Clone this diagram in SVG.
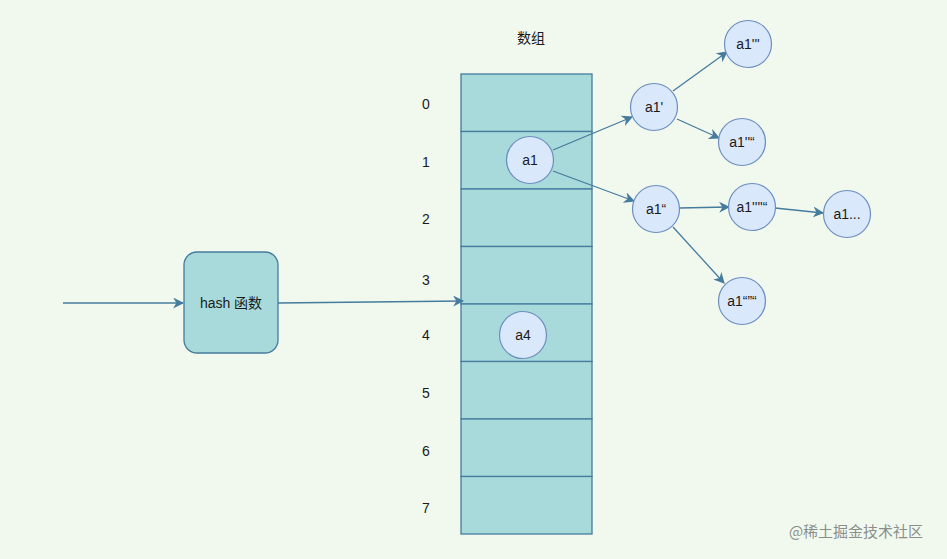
<svg xmlns="http://www.w3.org/2000/svg" width="947" height="559" viewBox="0 0 947 559">
<defs>
<style>
.t{font-family:"Liberation Sans","Noto Sans CJK SC",sans-serif;font-size:14px;fill:#1a1a1a;text-anchor:middle;dominant-baseline:central}
.c{fill:#dae8fc;stroke:#6c8ebf;stroke-width:1.2}
.e{stroke:#457b9d;stroke-width:1.3;fill:none;marker-end:url(#ah)}
.row{fill:#a8dadc;stroke:#457b9d;stroke-width:1.3}
</style>
<marker id="ah" viewBox="0 0 10 10" refX="9" refY="5" markerWidth="11" markerHeight="11" orient="auto" markerUnits="userSpaceOnUse">
<path d="M0,0 L10,5 L0,10 L3,5 Z" fill="#457b9d"/>
</marker>
</defs>
<rect width="947" height="559" fill="#f1f9ef"/>
<g id="array">
<rect class="row" x="461" y="74" width="131" height="57.5"/>
<rect class="row" x="461" y="131.5" width="131" height="57.5"/>
<rect class="row" x="461" y="189" width="131" height="57.5"/>
<rect class="row" x="461" y="246.5" width="131" height="57.5"/>
<rect class="row" x="461" y="304" width="131" height="57.5"/>
<rect class="row" x="461" y="361.5" width="131" height="57.5"/>
<rect class="row" x="461" y="419" width="131" height="57.5"/>
<rect class="row" x="461" y="476.5" width="131" height="57.5"/>
<text class="t" x="531" y="38">数组</text>
</g>
<g id="indices">
<text class="t" x="426" y="104">0</text>
<text class="t" x="426" y="162">1</text>
<text class="t" x="426" y="219">2</text>
<text class="t" x="426" y="280">3</text>
<text class="t" x="426" y="335">4</text>
<text class="t" x="426" y="393">5</text>
<text class="t" x="426" y="451">6</text>
<text class="t" x="426" y="508">7</text>
</g>
<g id="hash">
<rect x="184" y="252" width="94" height="101" rx="13" fill="#a8dadc" stroke="#457b9d" stroke-width="1.3"/>
<text class="t" x="231" y="303">hash 函数</text>
</g>
<g id="connectors">
<line class="e" x1="63" y1="303" x2="183" y2="303"/>
<line class="e" x1="278" y1="303" x2="463" y2="301"/>
<line class="e" x1="553" y1="150" x2="632" y2="117"/>
<line class="e" x1="553" y1="171" x2="634" y2="201"/>
<line class="e" x1="673" y1="91" x2="727" y2="52"/>
<line class="e" x1="677" y1="119" x2="719" y2="138"/>
<line class="e" x1="679" y1="208" x2="729" y2="207"/>
<line class="e" x1="775" y1="208" x2="823" y2="213"/>
<line class="e" x1="673" y1="227" x2="724" y2="283"/>
</g>
<g id="a1"><circle class="c" cx="530" cy="160" r="23.5"/><text class="t" x="530" y="160">a1</text></g>
<g id="a4"><circle class="c" cx="523" cy="335" r="23.5"/><text class="t" x="523" y="335">a4</text></g>
<g id="a1p"><circle class="c" cx="654" cy="107" r="23.5"/><text class="t" x="654" y="107">a1'</text></g>
<g id="a1q"><circle class="c" cx="656" cy="209" r="23.5"/><text class="t" x="656" y="209">a1“</text></g>
<g id="n3"><circle class="c" cx="748" cy="44" r="23.5"/><text class="t" x="748" y="44">a1'''</text></g>
<g id="n4"><circle class="c" cx="742" cy="142" r="23.5"/><text class="t" x="742" y="142">a1''“</text></g>
<g id="n5"><circle class="c" cx="752" cy="207" r="23.5"/><text class="t" x="752" y="207">a1''''“</text></g>
<g id="n6"><circle class="c" cx="847" cy="214" r="23.5"/><text class="t" x="847" y="214">a1...</text></g>
<g id="n7"><circle class="c" cx="742" cy="301" r="23.5"/><text class="t" x="742" y="301">a1“”“</text></g>
<text x="856" y="530" font-family="'Noto Sans CJK SC',sans-serif" font-size="15" fill="#8a8f8c" text-anchor="middle" dominant-baseline="central">@稀土掘金技术社区</text>
</svg>
